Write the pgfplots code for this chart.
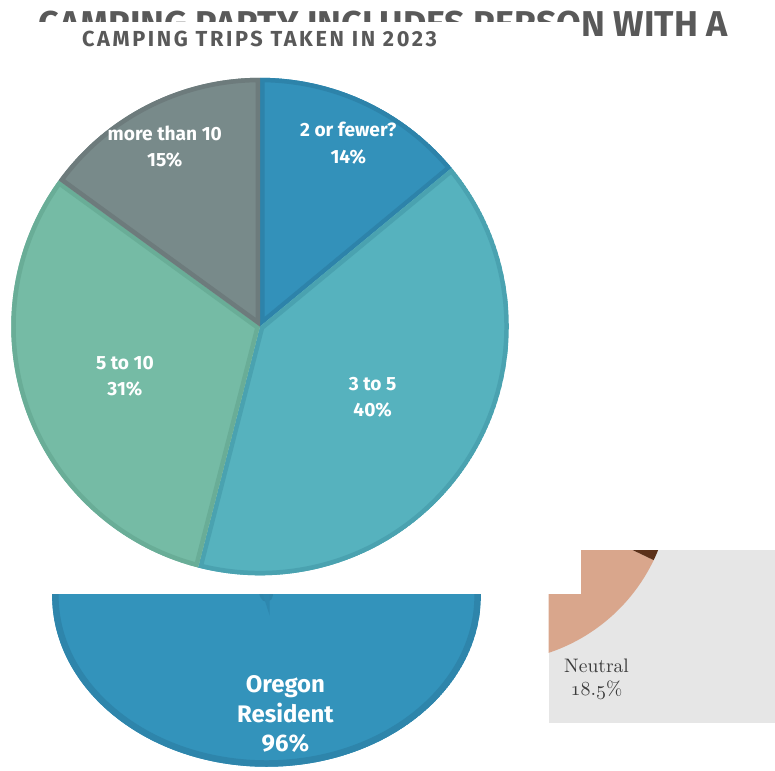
\documentclass[border=0pt]{standalone}
\usepackage{fontspec}
\setmainfont{Fira Sans}
\newfontfamily\titlefont[LetterSpace=12]{Fira Sans}
\newfontfamily\serif{Latin Modern Roman}
\usepackage{pgfplots}
\pgfplotsset{compat=1.18}
\usepackage{pgfplotstable}

% trips pie
\definecolor{t0}{HTML}{3391BA}\definecolor{tb0}{HTML}{2D83AA}
\definecolor{t1}{HTML}{56B2BE}\definecolor{tb1}{HTML}{4AA2B0}
\definecolor{t2}{HTML}{75BBA5}\definecolor{tb2}{HTML}{69AD97}
\definecolor{t3}{HTML}{788A8A}\definecolor{tb3}{HTML}{6D7B7C}
% oregon pie
\definecolor{o0}{HTML}{3393BB}\definecolor{ob0}{HTML}{2E85AB}
\definecolor{o1}{HTML}{56B2BE}\definecolor{ob1}{HTML}{2E88AF}
% attitude pie
\definecolor{n0}{HTML}{D9A68C}\definecolor{n1}{HTML}{5C3119}
\definecolor{panel}{HTML}{E6E6E6}
\definecolor{titlegray}{HTML}{595959}
\definecolor{ntext}{HTML}{3B3B3B}

\pgfplotstableread[col sep=comma]{
label,value,lx,ly
2 or fewer?,14,347,143.5
3 to 5,40,371.5,398.75
5 to 10,31,123,377.25
more than 10,15,163,147
}\trips

\pgfplotstableread[col sep=comma]{
label,value
Oregon Resident,96
Other,4
}\oregon

\pgfplotstableread[col sep=comma]{
label,value
Neutral,18.5
Other,20
}\attitude

\newcommand\lblfont{\bfseries\fontsize{9.6}{13.2}\selectfont}
\newcommand\orfont{\bfseries\fontsize{12}{14.9}\selectfont}

\begin{document}
\begin{tikzpicture}
\begin{axis}[scale only axis, width=387.5pt, height=386.5pt,
  xmin=0, xmax=775, ymin=0, ymax=773, y dir=reverse,
  hide axis, clip=false]
\path (axis cs:0,0) rectangle (axis cs:775,773);

% --- Oregon resident pie (stretched, top cut off)
\def\acc{0}
\pgfplotsforeachungrouped \i in {0,1}{%
  \pgfplotstablegetelem{\i}{value}\of\oregon \let\v\pgfplotsretval
  \pgfmathsetmacro\aS{90-3.6*\acc}
  \pgfmathsetmacro\aE{90-3.6*(\acc+\v)}
  \pgfmathsetmacro\acc{\acc+\v}
  \ifnum\i=0
  \edef\temp{\noexpand\begin{scope}
    \noexpand\clip (axis cs:265,597) -- ++(\aS:107.5pt and 86pt) arc[start angle=\aS, end angle=\aE, x radius=107.5pt, y radius=86pt] -- cycle;
    \noexpand\fill[o\i, draw=ob\i, line width=6.5pt, line join=round] (axis cs:265,597) -- ++(\aS:107.5pt and 86pt) arc[start angle=\aS, end angle=\aE, x radius=107.5pt, y radius=86pt] -- cycle;
    \noexpand\end{scope}}
  \else
  \edef\temp{\noexpand\fill[o\i, draw=ob\i, line width=3.2pt] (axis cs:265,597) -- ++(\aS:107.5pt and 86pt) arc[start angle=\aS, end angle=\aE, x radius=107.5pt, y radius=86pt] -- cycle;}
  \fi
  \temp
}
\pgfplotstablegetelem{0}{value}\of\oregon \let\v\pgfplotsretval
\edef\temp{\noexpand\node[white, font=\noexpand\orfont, align=center, inner sep=0pt] at (axis cs:284,716.25) {Oregon\noexpand\\Resident\noexpand\\\v\noexpand\%};}
\temp

% --- attitude pie panel
\fill[panel] (axis cs:548,552) rectangle (axis cs:775,725);
\def\acc{0}
\pgfplotsforeachungrouped \i in {0,1}{%
  \pgfplotstablegetelem{\i}{value}\of\attitude \let\v\pgfplotsretval
  \pgfmathsetmacro\aS{-92.2+3.6*\acc}
  \pgfmathsetmacro\aE{-92.2+3.6*(\acc+\v)}
  \pgfmathsetmacro\acc{\acc+\v}
  \edef\temp{\noexpand\begin{scope}
    \noexpand\clip (axis cs:548,552) rectangle (axis cs:775,725);
    \noexpand\fill[n\i] (axis cs:491,484) -- ++(\aS:90pt) arc[start angle=\aS, end angle=\aE, radius=90pt] -- cycle;
    \noexpand\end{scope}}
  \temp
}
\pgfplotstablegetelem{0}{label}\of\attitude \let\lbl\pgfplotsretval
\pgfplotstablegetelem{0}{value}\of\attitude \let\v\pgfplotsretval
\edef\temp{\noexpand\node[ntext, font=\noexpand\serif\noexpand\fontsize{9.8}{11.2}\noexpand\selectfont, align=center, inner sep=0pt] at (axis cs:596,681) {\lbl\noexpand\\$\noexpand\mathnormal{\v}$\noexpand\%};}
\temp

% --- titles
\node[titlegray, font=\bfseries\fontsize{18}{20}\selectfont, anchor=base east, inner sep=0pt] at (axis cs:728,37) {CAMPING PARTY INCLUDES PERSON WITH A};
\fill[white] (axis cs:0,22) rectangle (axis cs:580,596);
\node[titlegray, font=\titlefont\bfseries\fontsize{10.9}{13}\selectfont, anchor=base, inner sep=0pt] at (axis cs:258,46.7) {CAMPING TRIPS TAKEN IN 2023};

% --- trips pie
\def\acc{0}
\pgfplotsforeachungrouped \i in {0,...,3}{%
  \pgfplotstablegetelem{\i}{value}\of\trips \let\v\pgfplotsretval
  \pgfmathsetmacro\aS{90-3.6*\acc}
  \pgfmathsetmacro\aE{90-3.6*(\acc+\v)}
  \pgfmathsetmacro\acc{\acc+\v}
  \edef\temp{\noexpand\begin{scope}
    \noexpand\clip (axis cs:258.5,327.5) -- ++(\aS:124.75pt) arc[start angle=\aS, end angle=\aE, radius=124.75pt] -- cycle;
    \noexpand\fill[t\i, draw=tb\i, line width=4.5pt] (axis cs:258.5,327.5) -- ++(\aS:124.75pt) arc[start angle=\aS, end angle=\aE, radius=124.75pt] -- cycle;
    \noexpand\end{scope}}
  \temp
}
\pgfplotsforeachungrouped \i in {0,...,3}{%
  \pgfplotstablegetelem{\i}{value}\of\trips \let\v\pgfplotsretval
  \pgfplotstablegetelem{\i}{label}\of\trips \let\lbl\pgfplotsretval
  \pgfplotstablegetelem{\i}{lx}\of\trips \let\lx\pgfplotsretval
  \pgfplotstablegetelem{\i}{ly}\of\trips \let\ly\pgfplotsretval
  \edef\temp{\noexpand\node[white, font=\noexpand\lblfont, align=center, inner sep=0pt] at (axis cs:\lx,\ly) {\lbl\noexpand\\\v\noexpand\%};}
  \temp
}
\end{axis}
\end{tikzpicture}
\end{document}
